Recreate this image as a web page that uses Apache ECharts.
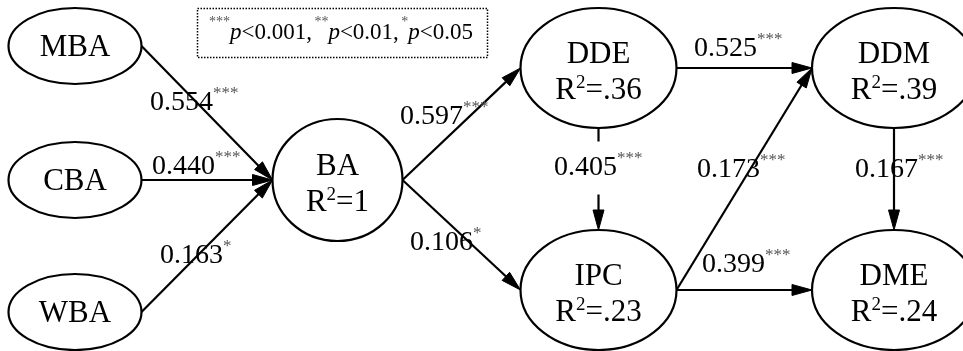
<!DOCTYPE html>
<html>
<head>
<meta charset="utf-8">
<script src="https://cdn.jsdelivr.net/npm/echarts@6/dist/echarts.min.js"></script>
<style>
html,body{margin:0;padding:0;background:#fff;}
#chart{width:963px;height:351px;}
</style>
</head>
<body>
<div id="chart"></div>
<script>
// ---------- DATA ----------
const nodeNames = ['MBA', 'CBA', 'WBA', 'BA', 'DDE', 'IPC', 'DDM', 'DME'];
const nodeR2    = ['',    '',    '',    '1',  '.36', '.23', '.39', '.24'];

const pathFrom  = ['MBA', 'CBA', 'WBA', 'BA',  'BA',  'DDE', 'DDE', 'IPC', 'IPC', 'DDM'];
const pathTo    = ['BA',  'BA',  'BA',  'DDE', 'IPC', 'DDM', 'IPC', 'DDM', 'DME', 'DME'];
const pathCoef  = ['0.554', '0.440', '0.163', '0.597', '0.106', '0.525', '0.405', '0.173', '0.399', '0.167'];
const pathSig   = ['***', '***', '*', '***', '*', '***', '***', '***', '***', '***'];

const sigMarks  = ['***', '**', '*'];
const sigP      = ['0.001', '0.01', '0.05'];

// ---------- LAYOUT (positions / sizes) ----------
const nodeLayout = {
  MBA: [75, 46, 66.5, 38],
  CBA: [75, 180, 66.5, 38],
  WBA: [75, 312, 66.5, 38],
  BA:  [337.5, 180, 65, 61],
  DDE: [598.5, 68, 78, 60],
  IPC: [598.5, 290, 78, 60],
  DDM: [894, 68, 82, 60],
  DME: [894, 290, 82, 60]
};
// left x / vertical centre of each path label (same order as paths)
const labelAnchor = [
  [150, 103], [152, 167], [160, 256], [400, 117], [410, 243],
  [694, 49], [552, 168], [697, 170], [702, 265], [855, 170]
];
const maskedLabel = ['DDE>IPC'];

const SERIF = '"Liberation Serif", "Times New Roman", serif';

// ports: horizontal paths leave from right side to left side, vertical from bottom to top
const edgeData = pathFrom.map(function (f, i) {
  const a = nodeLayout[f], b = nodeLayout[pathTo[i]];
  if (Math.abs(a[0] - b[0]) < 1) {
    return [a[0], a[1] + a[3], b[0], b[1] - b[3]];
  }
  return [a[0] + a[2], a[1], b[0] - b[2], b[1]];
});
const nodeData = nodeNames.map(function (n) { return nodeLayout[n].slice(); });

function renderEdge(params, api) {
  const i = params.dataIndex;
  const p0 = api.coord([api.value(0), api.value(1)]);
  const p1 = api.coord([api.value(2), api.value(3)]);
  const dx = p1[0] - p0[0], dy = p1[1] - p0[1];
  const len = Math.sqrt(dx * dx + dy * dy);
  const ux = dx / len, uy = dy / len;
  const L = 20, W = 5.5;
  const bx = p1[0] - ux * L, by = p1[1] - uy * L;
  const nx = -uy, ny = ux;
  const la = api.coord(labelAnchor[i]);
  const masked = maskedLabel.indexOf(pathFrom[i] + '>' + pathTo[i]) >= 0;
  const textStyle = {
    text: '{n|' + pathCoef[i] + '}{s|' + pathSig[i] + '}',
    x: la[0], y: la[1],
    align: 'left', verticalAlign: 'middle',
    font: '28px ' + SERIF,
    fill: '#000',
    rich: {
      n: { font: '28px ' + SERIF, fill: '#000', lineHeight: 32 },
      s: { font: '17px ' + SERIF, fill: '#555', lineHeight: 32, verticalAlign: 'top', height: 13 }
    }
  };
  if (masked) {
    textStyle.backgroundColor = '#fff';
    textStyle.padding = [10.5, 2, 10.5, 2];
  }
  return {
    type: 'group',
    children: [
      { type: 'line', shape: { x1: p0[0], y1: p0[1], x2: bx + ux, y2: by + uy },
        style: { stroke: '#000', lineWidth: 2.2 } },
      { type: 'polygon', shape: { points: [[p1[0], p1[1]], [bx + nx * W, by + ny * W], [bx - nx * W, by - ny * W]] },
        style: { fill: '#000', stroke: '#000', lineWidth: 1 } },
      { type: 'text', style: textStyle }
    ]
  };
}

function renderNode(params, api) {
  const i = params.dataIndex;
  const c = api.coord([api.value(0), api.value(1)]);
  const s = api.size([api.value(2), api.value(3)]);
  const r2 = nodeR2[i];
  const text = r2 ? '{a|' + nodeNames[i] + '}\n{a|R}{b|2}{a|=' + r2 + '}' : '{a|' + nodeNames[i] + '}';
  return {
    type: 'group',
    children: [
      { type: 'ellipse', shape: { cx: c[0], cy: c[1], rx: s[0], ry: s[1] },
        style: { fill: '#fff', stroke: '#000', lineWidth: 2.2 } },
      { type: 'text', style: {
          text: text, x: c[0], y: c[1] + (r2 ? 5 : 2),
          align: 'center', verticalAlign: 'middle',
          font: '31px ' + SERIF, fill: '#000',
          rich: {
            a: { font: '31px ' + SERIF, fill: '#000', lineHeight: 36 },
            b: { font: '19px ' + SERIF, fill: '#000', lineHeight: 36, verticalAlign: 'top', height: 20 }
          }
        } }
    ]
  };
}

let legendText = '';
sigMarks.forEach(function (m, i) {
  legendText += '{s|' + m + '}{p|p}{t|<' + sigP[i] + (i < sigMarks.length - 1 ? ',' : '') + '}' + (i < sigMarks.length - 1 ? '{g| }' : '');
});

const chart = echarts.init(document.getElementById('chart'), null, { renderer: 'canvas' });
chart.setOption({
  animation: false,
  backgroundColor: '#fff',
  grid: { left: 0, right: 0, top: 0, bottom: 0, containLabel: false },
  xAxis: { type: 'value', min: 0, max: 963, show: false },
  yAxis: { type: 'value', min: 0, max: 351, inverse: true, show: false },
  graphic: [
    { type: 'rect', shape: { x: 197.5, y: 8.5, width: 290, height: 49 },
      style: { fill: 'none', stroke: '#000', lineWidth: 1.5, lineDash: [1.5, 1.5] }, z: 10 },
    { type: 'text', x: 341, y: 33, z: 10,
      style: {
        text: legendText, align: 'center', verticalAlign: 'middle',
        font: '23px ' + SERIF, fill: '#000',
        rich: {
          s: { font: '14px ' + SERIF, fill: '#555', lineHeight: 26, verticalAlign: 'top', height: 5 },
          p: { font: 'italic 23px ' + SERIF, fill: '#000', lineHeight: 26 },
          t: { font: '23px ' + SERIF, fill: '#000', lineHeight: 26 },
          g: { font: '10px ' + SERIF, fill: '#000', lineHeight: 26 }
        }
      } }
  ],
  series: [
    { type: 'custom', coordinateSystem: 'cartesian2d', silent: true,
      renderItem: renderEdge, data: edgeData, encode: { x: [0, 2], y: [1, 3] }, z: 2 },
    { type: 'custom', coordinateSystem: 'cartesian2d', silent: true,
      renderItem: renderNode, data: nodeData, encode: { x: 0, y: 1 }, z: 3 }
  ]
});
</script>
</body>
</html>
